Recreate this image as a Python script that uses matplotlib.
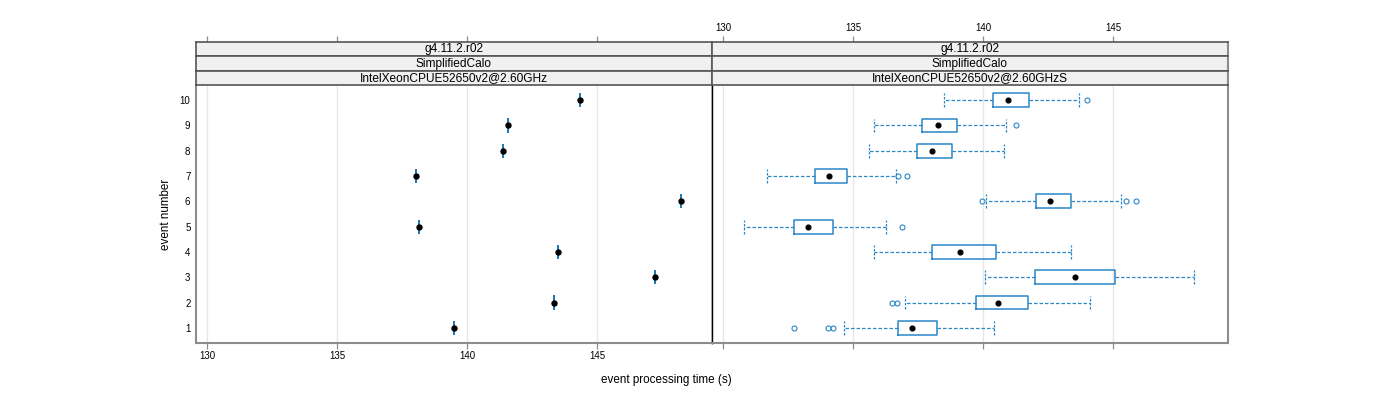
import matplotlib
matplotlib.use('Agg')
import matplotlib.pyplot as plt
import numpy as np

plt.rcParams['font.family'] = ['Liberation Sans', 'DejaVu Sans']

# ---------------- data ----------------
events = [1, 2, 3, 4, 5, 6, 7, 8, 9, 10]
strip_left = ["g4.11.2.r02", "SimplifiedCalo", "IntelXeonCPUE52650v2@2.60GHz"]
strip_right = ["g4.11.2.r02", "SimplifiedCalo", "IntelXeonCPUE52650v2@2.60GHzS"]
x_ticks = [130, 135, 140, 145]

# left panel: single measurement per event
left_times = [139.51, 143.36, 147.23, 143.49, 138.17, 148.21, 138.04, 141.38, 141.58, 144.35]

# right panel: box-plot statistics per event
whislo = [134.65, 137.00, 140.08, 135.81, 130.81, 140.10, 131.71, 135.63, 135.82, 138.50]
q1 = [136.74, 139.74, 142.01, 138.04, 132.73, 142.04, 133.53, 137.45, 137.67, 140.38]
med = [137.27, 140.59, 143.55, 139.13, 133.29, 142.58, 134.09, 138.03, 138.26, 140.97]
q3 = [138.24, 141.73, 145.08, 140.50, 134.24, 143.40, 134.77, 138.82, 138.99, 141.76]
whishi = [140.42, 144.13, 148.12, 143.38, 136.28, 145.31, 136.64, 140.82, 140.90, 143.69]
fliers = [[132.74, 134.03, 134.24], [136.51, 136.69], [], [], [136.90],
          [139.97, 145.51, 145.90], [136.75, 137.08], [], [141.27], [144.01]]

# ---------------- style ----------------
BLUE = '#2a88c8'
BLUE_DARK = '#1a78b8'
FRAME = '#8c8c8c'
GRID = '#e6e6e6'
XLIM = (129.58, 149.42)
YLIM = (0.4, 10.6)
TICKSIZE = 7.0

W, H = 1400, 400
fig = plt.figure(figsize=(14, 4), dpi=100)


def rect(x0, y0, x1, y1):
    return [x0 / W, 1 - y1 / H, (x1 - x0) / W, (y1 - y0) / H]


strip_top = 41.7
strip_h = 14.43
panel_top = strip_top + 3 * strip_h
panel_bot = 343
cols = [(196, 712), (712, 1228)]

axes = []
for c, (x0, x1) in enumerate(cols):
    ax = fig.add_axes(rect(x0, panel_top, x1, panel_bot))
    ax.set_xlim(*XLIM)
    ax.set_ylim(*YLIM)
    ax.set_xticks(x_ticks)
    ax.set_yticks(events)
    ax.grid(axis='x', color=GRID, lw=0.9)
    ax.set_axisbelow(True)
    for s in ax.spines.values():
        s.set_color(FRAME)
        s.set_linewidth(1.5)
    ax.spines['top'].set_visible(False)
    ax.tick_params(axis='x', direction='out', length=4, width=0.9, color=FRAME,
                   labelsize=TICKSIZE, pad=2, labelbottom=(c == 0))
    ax.tick_params(axis='y', length=0, pad=4, labelsize=TICKSIZE, labelleft=(c == 0))
    axes.append(ax)

# divider line between panels
axes[0].spines['right'].set_color('black')
axes[0].spines['right'].set_linewidth(1.0)
axes[1].spines['left'].set_color('black')
axes[1].spines['left'].set_linewidth(1.0)

# strips
for c, (x0, x1) in enumerate(cols):
    labels = strip_left if c == 0 else strip_right
    for i, lab in enumerate(labels):
        t = strip_top + i * strip_h
        sax = fig.add_axes(rect(x0, t, x1, t + strip_h))
        sax.set_facecolor('#f0f0f0')
        sax.set_xlim(*XLIM)
        sax.set_ylim(0, 1)
        sax.set_yticks([])
        for s in sax.spines.values():
            s.set_color('#555555')
            s.set_linewidth(1.2)
        sax.spines['right'].set_color(FRAME)
        sax.spines['right'].set_linewidth(1.5)
        sax.text(0.5, 0.47, lab, transform=sax.transAxes, ha='center', va='center',
                 fontsize=8.6, color='black')
        if i == 0:
            sax.set_xticks(x_ticks)
            sax.tick_params(axis='x', top=True, bottom=False, labeltop=(c == 1),
                            labelbottom=False, direction='out', length=4,
                            width=0.9, color=FRAME, labelsize=TICKSIZE, pad=2)
        else:
            sax.set_xticks([])

# left panel marks
axL = axes[0]
axL.vlines(left_times, np.array(events) - 0.28, np.array(events) + 0.28,
           color=BLUE_DARK, lw=1.4, zorder=3)
axL.plot(left_times, events, 'o', color='black', ms=3.6, zorder=4)

# right panel boxplots
axR = axes[1]
stats = []
for i in range(len(events)):
    stats.append(dict(med=med[i], q1=q1[i], q3=q3[i], whislo=whislo[i],
                      whishi=whishi[i], fliers=fliers[i]))
axR.bxp(stats, positions=events, widths=0.55, capwidths=0.55,
        orientation='horizontal', manage_ticks=False,
        boxprops=dict(color=BLUE, lw=1.1),
        whiskerprops=dict(color=BLUE, lw=0.9, linestyle=(0, (2.8, 1.6))),
        capprops=dict(color=BLUE, lw=0.9, linestyle=(0, (2.0, 1.2))),
        medianprops=dict(visible=False),
        flierprops=dict(marker='o', markerfacecolor='none', markeredgecolor=BLUE,
                        markersize=3.6, markeredgewidth=0.8, linestyle='none'))
axR.plot(med, events, 'o', color='black', ms=3.4, zorder=4)

# axis labels
fig.text(666 / W, 1 - 380 / H, 'event processing time (s)', ha='center', va='center',
         fontsize=8.4)
fig.text(166 / W, 1 - 214 / H, 'event number', ha='center', va='center',
         rotation=90, fontsize=8.4)

fig.savefig('out.png', dpi=100)
